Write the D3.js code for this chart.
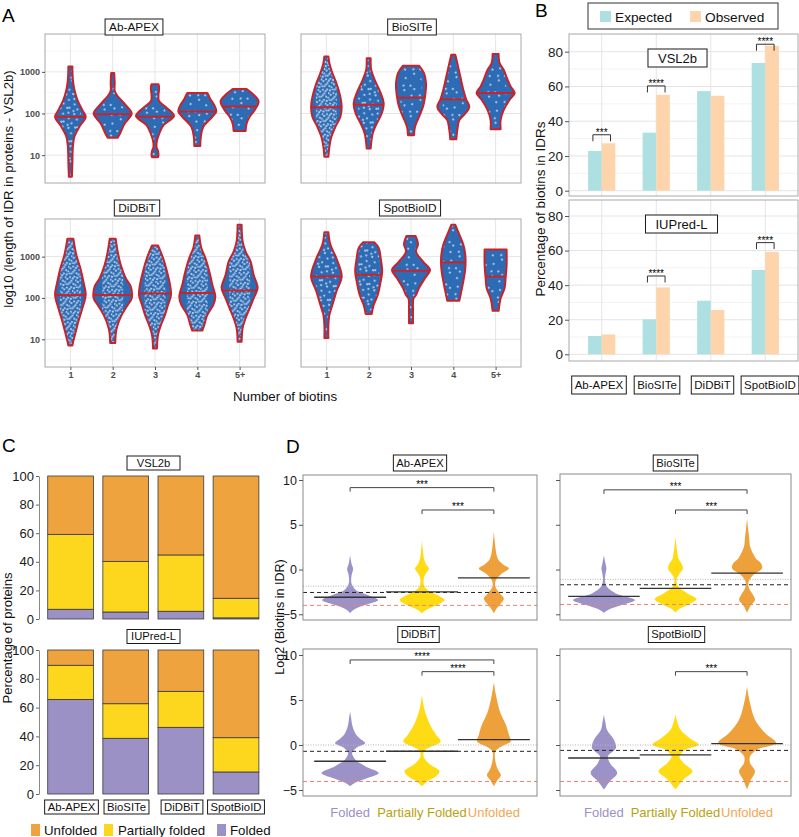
<!DOCTYPE html>
<html><head><meta charset="utf-8">
<script src="https://cdn.jsdelivr.net/npm/d3@7"></script>
<style>body{margin:0;background:#fff}</style>
</head><body><script>
// ================= DATA =================
const methods = ["Ab-APEX","BioSITe","DiDBiT","SpotBioID"];
const biotinCats = ["1","2","3","4","5+"];
const idrTicks = [10,100,1000];
const idrMinorTicks = [3.16,31.6,316,3162];

// Panel A: violin profiles [log10(IDR length), half-width density]
const violinAbAPEX = [
 [[0.48,1.5],[0.8,2],[1.2,2.5],[1.44,4],[1.68,9],[1.92,15.3],[2.08,12],[2.33,7],[2.57,4],[2.81,2.5],[3.13,2]],
 [[1.42,5],[1.5,7],[1.76,12],[2.0,19],[2.2,13],[2.45,4],[2.55,2],[2.75,2],[2.97,1.5]],
 [[0.95,3],[1.0,3.5],[1.1,3],[1.2,1.5],[1.35,2],[1.5,4],[1.72,8.5],[1.94,19],[2.15,11],[2.3,4],[2.45,3.5],[2.55,4],[2.65,4],[2.7,3.5]],
 [[1.22,3],[1.44,3.5],[1.68,6],[1.92,15],[2.05,19],[2.2,17],[2.35,13],[2.45,11],[2.49,10]],
 [[1.58,6],[1.76,7],[1.92,10],[2.08,15],[2.29,19],[2.45,14],[2.59,7]]
];
const violinBioSITe = [
 [[0.96,2],[1.2,3],[1.44,5],[1.68,9],[1.92,14],[2.16,15.3],[2.40,14],[2.73,10],[2.97,6],[3.21,3],[3.37,2]],
 [[1.16,2],[1.52,4],[1.76,8],[2.0,13],[2.25,15],[2.49,12],[2.81,6],[3.05,2.5],[3.33,2]],
 [[1.48,3],[1.68,4],[1.92,8],[2.16,12],[2.40,14],[2.73,15],[2.97,13],[3.15,8]],
 [[1.38,3],[1.6,4],[1.84,6],[2.0,12],[2.16,16],[2.33,13],[2.57,10],[2.89,7],[3.21,4],[3.41,2]],
 [[1.62,5],[1.84,5],[2.08,8],[2.33,14],[2.49,19],[2.65,15],[2.81,12],[3.05,8],[3.21,4],[3.43,3]]
];
const violinDiDBiT = [
 [[0.85,2],[0.91,2.5],[1.15,5],[1.43,8],[1.75,12],[2.07,15.3],[2.40,13],[2.72,10],[3.04,6],[3.43,3]],
 [[0.91,2.5],[1.11,3],[1.27,4],[1.59,9],[1.83,15],[1.99,19],[2.28,18],[2.48,13],[2.80,8],[3.12,5],[3.43,3]],
 [[0.78,2],[1.11,3],[1.35,6],[1.59,10],[1.83,13],[2.07,16],[2.32,15],[2.64,12],[2.97,8],[3.27,3]],
 [[1.21,5],[1.35,7],[1.59,10],[1.83,16],[2.03,18],[2.32,15],[2.64,12],[2.97,8],[3.21,4],[3.51,2]],
 [[0.94,2],[1.27,3],[1.51,6],[1.75,10],[1.99,14],[2.24,18],[2.56,14],[2.88,11],[3.12,6],[3.37,3],[3.77,2]]
];
const violinSpotBioID = [
 [[1.03,2],[1.35,2],[1.59,3],[1.83,6],[2.16,10],[2.52,15.3],[2.96,10],[3.29,4],[3.59,2]],
 [[1.61,3],[1.83,5],[2.07,9],[2.40,12],[2.64,13.5],[2.96,12],[3.21,10],[3.35,5.5]],
 [[1.39,2],[1.7,2],[1.99,2.5],[2.07,5],[2.24,8],[2.48,14],[2.68,19],[2.88,12],[3.12,5],[3.3,7],[3.5,4.5]],
 [[1.93,6],[2.16,8],[2.40,10],[2.72,12],[3.04,12],[3.29,10],[3.53,6],[3.77,2]],
 [[1.69,3],[1.99,5],[2.24,9],[2.48,10],[2.80,11],[3.17,11]]
];
const medianAbAPEX = [1.92,1.98,1.92,2.05,2.17];
const medianBioSITe = [2.15,2.21,2.38,2.34,2.49];
const medianDiDBiT = [2.07,2.07,2.11,2.12,2.18];
const medianSpotBioID = [2.52,2.56,2.66,2.86,2.52];

// Panel B: percentage of biotins in IDRs
const expectedVSL2b = [22.9,33.4,57.3,73.5];
const observedVSL2b = [27.3,55.2,54.6,83.4];
const expectedIUPred = [10.6,20.2,31.0,48.8];
const observedIUPred = [11.5,38.7,25.6,59.2];
const sigVSL2b = [["Ab-APEX",32.2,"***"],["BioSITe",60.3,"****"],["SpotBioID",84.3,"****"]];
const sigIUPred = [["BioSITe",45.3,"****"],["SpotBioID",64.6,"****"]];
const pctTicks = [0,20,40,60,80];
const pctMinorTicks = [10,30,50,70];

// Panel C: percentage of proteins
const foldClasses = ["Folded","Partially folded","Unfolded"];
const foldedVSL2b = [6.8,4.9,5.4,0.8];
const partialVSL2b = [52.4,35.4,39.4,13.7];
const unfoldedVSL2b = [40.8,59.7,55.2,85.5];
const foldedIUPred = [65.7,38.7,46.3,15.3];
const partialIUPred = [23.7,24.0,25.0,23.8];
const unfoldedIUPred = [10.6,37.3,28.7,60.9];
const protTicks = [0,20,40,60,80,100];

// Panel D: log2(biotins in IDR) violins [value, half-width density]
const foldCatsD = ["Folded","Partially Folded","Unfolded"];
const log2Ticks = [-5,0,5,10];
const log2AbAPEX = [
 [[-4.85,0],[-4.45,4],[-3.97,15],[-3.41,28],[-2.86,18],[-2.4,7],[-2.1,4],[-1.6,1.5],[-1.2,1],[-0.6,1.5],[0.1,3],[0.6,1.5],[1.0,0.8],[1.6,0]],
 [[-4.9,0],[-4.52,4],[-3.97,15],[-3.41,22.5],[-3.0,18],[-2.3,6],[-1.9,2.5],[-1.19,1.5],[-0.6,3],[0.11,7],[0.6,4],[1.2,2],[2.0,1],[3.26,0]],
 [[-4.9,0],[-4.33,3],[-3.78,7],[-3.23,10],[-2.67,6],[-1.93,1.5],[-1.19,2],[-0.45,8],[0.11,15],[0.5,10],[1.0,5],[1.5,3],[2.5,1.5],[4.18,0]]
];
const log2BioSITe = [
 [[-4.82,0],[-4.45,5],[-3.97,18],[-3.41,31],[-2.67,12],[-1.93,3],[-1.19,1],[-0.5,1.5],[0.11,2.5],[0.7,1.5],[1.59,0]],
 [[-4.82,0],[-4.45,3],[-3.97,12],[-3.3,21],[-2.67,12],[-1.93,3],[-1.19,1],[-0.63,3],[0.11,7.5],[0.67,6],[1.2,3],[1.78,2],[2.6,1],[3.63,0]],
 [[-4.82,0],[-3.97,4],[-3.41,8],[-2.85,6],[-2.1,2],[-1.37,1.5],[-0.63,6],[0.11,15],[0.67,14],[1.2,9],[1.78,6],[2.6,3],[3.63,2],[4.6,1],[5.67,0]]
];
const log2DiDBiT = [
 [[-4.58,0],[-4.2,5],[-3.65,18],[-3.1,28.5],[-2.35,15],[-1.6,5],[-0.88,2],[-0.33,6],[0.22,15],[0.7,10],[1.14,6],[1.7,3.5],[2.24,2],[3.0,1],[3.72,0]],
 [[-4.58,0],[-4.0,6],[-3.46,14],[-2.9,17.5],[-2.16,8],[-1.43,2],[-0.7,2],[-0.15,10],[0.4,18.7],[1.14,14],[2.24,8],[3.72,3],[4.6,1.2],[5.57,0]],
 [[-4.58,0],[-3.83,4],[-3.35,7],[-2.72,4],[-1.8,1.5],[-0.7,1.5],[-0.15,8],[0.4,16.7],[1.14,15],[2.24,12],[3.72,6],[5.57,2],[6.97,0]]
];
const log2SpotBioID = [
 [[-4.95,0],[-4.02,6],[-3.1,13.3],[-2.0,6],[-1.26,4],[-0.33,12],[0.59,10],[1.69,3],[2.5,1.5],[3.36,0]],
 [[-4.95,0],[-3.84,8],[-2.92,17],[-2.0,8],[-1.26,4],[-0.52,10],[0.03,23],[0.77,14],[1.69,5],[2.5,2],[3.36,0]],
 [[-4.95,0],[-3.84,4],[-2.92,8],[-2.0,3],[-1.26,3],[-0.52,10],[0.22,29],[1.32,18],[2.8,8],[4.64,3],[5.6,1.2],[6.49,0]]
];
const meanLog2AbAPEX = [-3.1,-2.5,-0.93];
const meanLog2BioSITe = [-3.0,-2.1,-0.4];
const meanLog2DiDBiT = [-1.8,-0.7,0.6];
const meanLog2SpotBioID = [-1.45,-1.1,0.15];
// reference lines: [dotted grey, dashed black, dashed red]
const refAbAPEX = [-1.86,-2.56,-4.0];
const refBioSITe = [-1.1,-1.7,-3.9];
const refDiDBiT = [0.0,-0.7,-4.05];
const refSpotBioID = [0.0,-0.6,-4.05];
const sigDAbAPEX = [["Folded","Unfolded",9.15,"***"],["Partially Folded","Unfolded",6.65,"***"]];
const sigDBioSITe = [["Folded","Unfolded",8.9,"***"],["Partially Folded","Unfolded",6.65,"***"]];
const sigDDiDBiT = [["Folded","Unfolded",9.45,"****"],["Partially Folded","Unfolded",8.15,"****"]];
const sigDSpotBioID = [["Partially Folded","Unfolded",8.15,"***"]];

// ================= STYLE =================
const FONT = '"Liberation Sans", Arial, Helvetica, sans-serif';
const colFold = {"Folded":"#9b91c5","Partially folded":"#fcd71d","Unfolded":"#efa33e"};
const colFoldD = ["#9d92c8","#ffdb14","#eea13b"];
const colLabelD = ["#9b91c6","#b9a20f","#f2a654"];
const colExp = "#aee0e1", colObs = "#fdd4ac";

const svg = d3.select("body").append("svg").attr("width",799).attr("height",837)
  .style("font-family",FONT);
const defs = svg.append("defs");

// dot textures for jittered points (style only)
const dotTiles = {
  hi:{size:11, rot:17, pts:[[1,1],[5,2.5],[9,0.8],[3,5],[7.5,5.5],[10.2,8],[1.5,8.5],[5.5,9.5],[8,3],[3.5,10.5],[0.5,4],[6.5,7.5]]},
  mid:{size:15, rot:23, pts:[[2,2],[8,1],[12.5,5],[4.5,7],[9,10.5],[1,12],[14,13],[6,13.5]]},
  lo:{size:19, rot:31, pts:[[3,3],[13,2],[8,10],[16,14],[2,15],[10,17.5]]}
};
Object.entries(dotTiles).forEach(([k,t])=>{
  const p = defs.append("pattern").attr("id","dots-"+k).attr("patternUnits","userSpaceOnUse")
    .attr("width",t.size).attr("height",t.size).attr("patternTransform",`rotate(${t.rot})`);
  p.selectAll("circle").data(t.pts).join("circle").attr("cx",d=>d[0]).attr("cy",d=>d[1])
    .attr("r",1.05).attr("fill","#fff").attr("fill-opacity",0.72);
});

function widthAt(prof, v){
  for(let i=0;i<prof.length-1;i++){const a=prof[i],b=prof[i+1];
    if(v>=a[0]&&v<=b[0]) return a[1]+(b[1]-a[1])*(v-a[0])/(b[0]-a[0]);}
  return 0;
}
function strip(g,cx,cy,text,fs,h,padX,fixedW){
  const t = g.append("text").attr("x",cx).attr("y",cy).attr("dy","0.35em").attr("text-anchor","middle")
    .attr("font-size",fs).attr("fill","#111").text(text);
  const w = fixedW || (t.node().getComputedTextLength()+2*padX);
  g.insert("rect",()=>t.node()).attr("x",cx-w/2).attr("y",cy-h/2).attr("width",w).attr("height",h)
    .attr("fill","#fff").attr("stroke","#1a1a1a").attr("stroke-width",1);
}
function panelLetter(x,y,t){
  svg.append("text").attr("x",x).attr("y",y).attr("font-size",19).attr("fill","#000").text(t);
}

// ================= PANEL A =================
const facetsA = [
 {k:0,name:"Ab-APEX",prof:violinAbAPEX,med:medianAbAPEX,dens:["mid","lo","lo","lo","lo"],x0:45,x1:265,y0:34,y1:183,sx:134,sy:27,yl:true,xl:false},
 {k:1,name:"BioSITe",prof:violinBioSITe,med:medianBioSITe,dens:["hi","mid","lo","lo","lo"],x0:301,x1:521,y0:34,y1:183,sx:412,sy:27,yl:false,xl:false},
 {k:2,name:"DiDBiT",prof:violinDiDBiT,med:medianDiDBiT,dens:["hi","hi","hi","hi","hi"],x0:45,x1:265,y0:219,y1:367,sx:137,sy:208,yl:true,xl:true},
 {k:3,name:"SpotBioID",prof:violinSpotBioID,med:medianSpotBioID,dens:["mid","mid","lo","lo","lo"],x0:301,x1:521,y0:219,y1:367,sx:410,sy:208,yl:false,xl:true}
];
facetsA.forEach(f=>{
  const g = svg.append("g");
  const x = d3.scalePoint().domain(biotinCats).range([f.x0,f.x1]).padding(0.6);
  const y = d3.scaleLog().domain([Math.pow(10,0.33),Math.pow(10,3.91)]).range([f.y1,f.y0]);
  const w = d3.scaleLinear().domain([0,42.3]).range([0,x.step()]);
  g.selectAll(".mn").data(idrMinorTicks).join("line").attr("x1",f.x0).attr("x2",f.x1)
    .attr("y1",d=>y(d)).attr("y2",d=>y(d)).attr("stroke","#f4f4f4").attr("stroke-width",0.8);
  g.selectAll(".mj").data(idrTicks).join("line").attr("x1",f.x0).attr("x2",f.x1)
    .attr("y1",d=>y(d)).attr("y2",d=>y(d)).attr("stroke","#e6e6e6").attr("stroke-width",1);
  g.selectAll(".vg").data(biotinCats).join("line").attr("x1",d=>x(d)).attr("x2",d=>x(d))
    .attr("y1",f.y0).attr("y2",f.y1).attr("stroke","#e6e6e6").attr("stroke-width",1);
  f.prof.forEach((prof,i)=>{
    const cx = x(biotinCats[i]);
    const area = d3.area().curve(d3.curveCatmullRom)
      .y(d=>y(Math.pow(10,d[0]))).x0(d=>cx-w(d[1])).x1(d=>cx+w(d[1]));
    const d = area(prof);
    const id = `clipA${f.k}_${i}`;
    defs.append("clipPath").attr("id",id).append("path").attr("d",d);
    g.append("path").attr("d",d).attr("fill","#2d6cb4");
    const ys = d3.extent(prof,p=>y(Math.pow(10,p[0])));
    g.append("rect").attr("x",cx-w(10.5)).attr("width",2*w(10.5)).attr("y",ys[0]).attr("height",ys[1]-ys[0])
      .attr("fill",`url(#dots-${f.dens[i]})`).attr("clip-path",`url(#${id})`);
    g.append("path").attr("d",d).attr("fill","none").attr("stroke","#c8232b").attr("stroke-width",2)
      .attr("stroke-linejoin","round");
    const mw = widthAt(prof,f.med[i]);
    const my = y(Math.pow(10,f.med[i]));
    g.append("line").attr("x1",cx-w(mw)).attr("x2",cx+w(mw)).attr("y1",my).attr("y2",my)
      .attr("stroke","#c8232b").attr("stroke-width",2);
  });
  g.append("rect").attr("x",f.x0).attr("y",f.y0).attr("width",f.x1-f.x0).attr("height",f.y1-f.y0)
    .attr("fill","none").attr("stroke","#a8a8a8").attr("stroke-width",1);
  if(f.yl){
    const ag = g.append("g").attr("transform",`translate(${f.x0},0)`)
      .call(d3.axisLeft(y).tickValues(idrTicks).tickFormat(d3.format("d")).tickSize(3).tickPadding(2));
    ag.select(".domain").remove();
    ag.selectAll("line").attr("stroke","#555");
    ag.selectAll("text").attr("font-size",9).attr("font-family",FONT).attr("fill","#4d4d4d").attr("font-weight","bold");
  }
  if(f.xl){
    const ag = g.append("g").attr("transform",`translate(0,${f.y1})`)
      .call(d3.axisBottom(x).tickSize(3).tickPadding(2));
    ag.select(".domain").remove();
    ag.selectAll("line").attr("stroke","#555");
    ag.selectAll("text").attr("font-size",9).attr("font-family",FONT).attr("fill","#4d4d4d").attr("font-weight","bold");
  }
  strip(g,f.sx,f.sy,f.name,11.8,16,4);
});
svg.append("text").attr("transform","translate(13,189) rotate(-90)").attr("text-anchor","middle")
  .attr("font-size",13.2).attr("fill","#111").text("log10 (length of IDR in proteins - VSL2b)");
svg.append("text").attr("x",285).attr("y",401).attr("text-anchor","middle")
  .attr("font-size",13.3).attr("fill","#111").text("Number of biotins");
panelLetter(2,22,"A");

// ================= PANEL B =================
const facetsB = [
 {name:"VSL2b",exp:expectedVSL2b,obs:observedVSL2b,sig:sigVSL2b,y0:34,y1:196,r0:190.7,r80:51.7,sx:677.5,sy:58},
 {name:"IUPred-L",exp:expectedIUPred,obs:observedIUPred,sig:sigIUPred,y0:200,y1:361,r0:354.3,r80:216,sx:681.5,sy:224}
];
const bx0 = 569, bx1 = 798;
facetsB.forEach(f=>{
  const g = svg.append("g");
  const x = d3.scalePoint().domain(methods).range([bx0,bx1]).padding(0.6);
  const y = d3.scaleLinear().domain([0,80]).range([f.r0,f.r80]);
  const bw = x.step()*0.25;
  g.selectAll(".mn").data(pctMinorTicks).join("line").attr("x1",bx0).attr("x2",bx1)
    .attr("y1",d=>y(d)).attr("y2",d=>y(d)).attr("stroke","#f3f3f3");
  g.selectAll(".mj").data(pctTicks).join("line").attr("x1",bx0).attr("x2",bx1)
    .attr("y1",d=>y(d)).attr("y2",d=>y(d)).attr("stroke","#e4e4e4");
  g.selectAll(".vg").data(methods).join("line").attr("x1",d=>x(d)).attr("x2",d=>x(d))
    .attr("y1",f.y0).attr("y2",f.y1).attr("stroke","#e4e4e4");
  g.selectAll(".be").data(methods).join("rect").attr("x",d=>x(d)-bw).attr("width",bw)
    .attr("y",(d,i)=>y(f.exp[i])).attr("height",(d,i)=>y(0)-y(f.exp[i])).attr("fill",colExp);
  g.selectAll(".bo").data(methods).join("rect").attr("x",d=>x(d)).attr("width",bw)
    .attr("y",(d,i)=>y(f.obs[i])).attr("height",(d,i)=>y(0)-y(f.obs[i])).attr("fill",colObs);
  f.sig.forEach(s=>{
    const xa = x(s[0])-bw/2-2, xb = x(s[0])+bw/2+2, yy = y(s[1]);
    g.append("path").attr("d",`M${xa},${yy+6.5}V${yy}H${xb}V${yy+6.5}`).attr("fill","none")
      .attr("stroke","#333").attr("stroke-width",1);
    g.append("text").attr("x",(xa+xb)/2).attr("y",yy+1).attr("text-anchor","middle")
      .attr("font-size",10).attr("fill","#000").text(s[2]);
  });
  g.append("rect").attr("x",bx0).attr("y",f.y0).attr("width",bx1-bx0).attr("height",f.y1-f.y0)
    .attr("fill","none").attr("stroke","#a8a8a8");
  const ag = g.append("g").attr("transform",`translate(${bx0},0)`)
    .call(d3.axisLeft(y).tickValues(pctTicks).tickSize(4).tickPadding(2));
  ag.select(".domain").remove();
  ag.selectAll("line").attr("stroke","#555");
  ag.selectAll("text").attr("font-size",13.5).attr("font-family",FONT).attr("fill","#1a1a1a");
  strip(g,f.sx,f.sy,f.name,13,18,10);
});
{
  const g = svg.append("g");
  const stripX = [599,657,712.5,770];
  methods.forEach((m,i)=>strip(g,stripX[i],385,m,11.5,18,3));
}
svg.append("text").attr("transform","translate(545,209) rotate(-90)").attr("text-anchor","middle")
  .attr("font-size",13.5).attr("fill","#111").text("Percentage of biotins in IDRs");
{
  const g = svg.append("g");
  g.append("rect").attr("x",588).attr("y",3).attr("width",190).attr("height",26).attr("fill","#fff")
    .attr("stroke","#333").attr("stroke-width",1);
  const items = [["Expected",colExp,600],["Observed",colObs,690]];
  items.forEach(it=>{
    g.append("rect").attr("x",it[2]).attr("y",11).attr("width",11).attr("height",11).attr("fill",it[1]);
    g.append("text").attr("x",it[2]+15).attr("y",21.5).attr("font-size",13.7).attr("fill","#111").text(it[0]);
  });
}
panelLetter(535,17,"B");

// ================= PANEL C =================
const facetsC = [
 {name:"VSL2b",folded:foldedVSL2b,partial:partialVSL2b,unfolded:unfoldedVSL2b,r0:619,r100:476,sy:463},
 {name:"IUPred-L",folded:foldedIUPred,partial:partialIUPred,unfolded:unfoldedIUPred,r0:794,r100:650,sy:636.5}
];
facetsC.forEach(f=>{
  const g = svg.append("g");
  const x = d3.scaleBand().domain(methods).range([40,266.6]).paddingInner(0.17).paddingOuter(0.14);
  const y = d3.scaleLinear().domain([0,100]).range([f.r0,f.r100]);
  const rows = methods.map((m,i)=>({method:m,"Folded":f.folded[i],"Partially folded":f.partial[i],"Unfolded":f.unfolded[i]}));
  const series = d3.stack().keys(foldClasses)(rows);
  series.forEach(s=>{
    g.selectAll(null).data(s).join("rect").attr("x",d=>x(d.data.method)).attr("width",x.bandwidth())
      .attr("y",d=>y(d[1])).attr("height",d=>y(d[0])-y(d[1])).attr("fill",colFold[s.key])
      .attr("stroke","#3a3a3a").attr("stroke-width",0.8);
  });
  const ag = g.append("g").attr("transform","translate(39,0)")
    .call(d3.axisLeft(y).tickValues(protTicks).tickSize(3).tickSizeOuter(0).tickPadding(2));
  ag.select(".domain").attr("stroke","#888");
  ag.selectAll("line").attr("stroke","#666");
  ag.selectAll("text").attr("font-size",13).attr("font-family",FONT).attr("fill","#1a1a1a");
  strip(g,153.5,f.sy,f.name,11.2,14,0,53);
});
{
  const g = svg.append("g");
  const lx = [71.5,126.5,182,236];
  methods.forEach((m,i)=>strip(g,lx[i],807,m,11.3,14,3));
  const leg = [["Unfolded",31,44],["Partially folded",104,118],["Folded",217,230]];
  leg.forEach(l=>{
    g.append("rect").attr("x",l[1]).attr("y",824).attr("width",9).attr("height",12).attr("fill",colFold[l[0]]);
    g.append("text").attr("x",l[2]).attr("y",835).attr("font-size",13.3).attr("fill","#111").text(l[0]);
  });
}
svg.append("text").attr("transform","translate(12,638) rotate(-90)").attr("text-anchor","middle")
  .attr("font-size",13).attr("fill","#111").text("Percentage of proteins");
panelLetter(2,452,"C");

// ================= PANEL D =================
const facetsD = [
 {name:"Ab-APEX",prof:log2AbAPEX,mean:meanLog2AbAPEX,ref:refAbAPEX,sig:sigDAbAPEX,px0:303,px1:537,sx0:307,sx1:537,py0:475,py1:620,ym5:614.3,y10:480,lab:true,stx:420,sty:463},
 {name:"BioSITe",prof:log2BioSITe,mean:meanLog2BioSITe,ref:refBioSITe,sig:sigDBioSITe,px0:560,px1:791,sx0:561,sx1:790,py0:474,py1:620,ym5:614.3,y10:480,lab:false,stx:675.5,sty:463},
 {name:"DiDBiT",prof:log2DiDBiT,mean:meanLog2DiDBiT,ref:refDiDBiT,sig:sigDDiDBiT,px0:303,px1:537,sx0:307,sx1:537,py0:649,py1:796,ym5:790,y10:655,lab:true,stx:418.5,sty:634.5},
 {name:"SpotBioID",prof:log2SpotBioID,mean:meanLog2SpotBioID,ref:refSpotBioID,sig:sigDSpotBioID,px0:560,px1:791,sx0:561,sx1:790,py0:649,py1:796,ym5:790,y10:655,lab:false,stx:676.5,sty:634.5}
];
facetsD.forEach(f=>{
  const g = svg.append("g");
  const x = d3.scalePoint().domain(foldCatsD).range([f.sx0,f.sx1]).padding(0.6);
  const y = d3.scaleLinear().domain([-5,10]).range([f.ym5,f.y10]);
  const w = d3.scaleLinear().domain([0,71.7]).range([0,x.step()]);
  f.prof.forEach((prof,i)=>{
    const cx = x(foldCatsD[i]);
    const area = d3.area().curve(d3.curveCatmullRom)
      .y(d=>y(d[0])).x0(d=>cx-w(d[1])).x1(d=>cx+w(d[1]));
    g.append("path").attr("d",area(prof)).attr("fill",colFoldD[i]);
  });
  const rs = [{c:"#b3b3b3",da:"1,1.5"},{c:"#222",da:"4,3"},{c:"#e5836f",da:"4,3"}];
  f.ref.forEach((v,j)=>g.append("line").attr("x1",f.px0).attr("x2",f.px1).attr("y1",y(v)).attr("y2",y(v))
    .attr("stroke",rs[j].c).attr("stroke-dasharray",rs[j].da).attr("stroke-width",1));
  f.mean.forEach((v,i)=>{
    const cx = x(foldCatsD[i]);
    g.append("line").attr("x1",cx-x.step()/2).attr("x2",cx+x.step()/2).attr("y1",y(v)).attr("y2",y(v))
      .attr("stroke","#333").attr("stroke-width",1.4);
  });
  f.sig.forEach(s=>{
    const xa = x(s[0]), xb = x(s[1]), yy = y(s[2]);
    g.append("path").attr("d",`M${xa},${yy+4}V${yy}H${xb}V${yy+4}`).attr("fill","none")
      .attr("stroke","#444").attr("stroke-width",1);
    g.append("text").attr("x",(xa+xb)/2).attr("y",yy+0.5).attr("text-anchor","middle")
      .attr("font-size",10).attr("fill","#000").text(s[3]);
  });
  g.append("rect").attr("x",f.px0).attr("y",f.py0).attr("width",f.px1-f.px0).attr("height",f.py1-f.py0)
    .attr("fill","none").attr("stroke","#8a8a8a").attr("stroke-width",1);
  const ax = d3.axisLeft(y).tickValues(log2Ticks).tickSize(4).tickPadding(2);
  if(!f.lab) ax.tickFormat("");
  const ag = g.append("g").attr("transform",`translate(${f.px0},0)`).call(ax);
  ag.select(".domain").remove();
  ag.selectAll("line").attr("stroke","#555");
  ag.selectAll("text").attr("font-size",12.5).attr("font-family",FONT).attr("fill","#1a1a1a");
  strip(g,f.stx,f.sty,f.name,11.2,16,3);
  if(f.py0>640){
    foldCatsD.forEach((c,i)=>g.append("text").attr("x",x(c)).attr("y",817).attr("text-anchor","middle")
      .attr("font-size",13).attr("fill",colLabelD[i]).text(c));
  }
});
svg.append("text").attr("transform","translate(284,617) rotate(-90)").attr("text-anchor","middle")
  .attr("font-size",12.5).attr("fill","#111").text("Log2 (Biotins in IDR)");
panelLetter(286,453,"D");
</script></body></html>
